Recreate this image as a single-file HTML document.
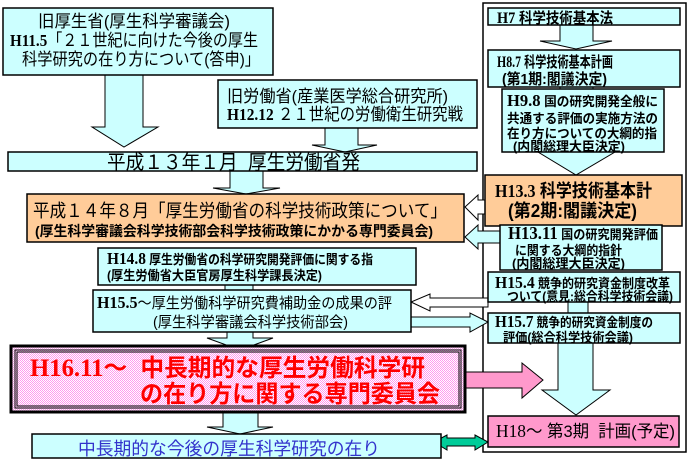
<!DOCTYPE html>
<html>
<head>
<meta charset="utf-8">
<style>
html,body{margin:0;padding:0;background:#fff;}
svg{display:block;}
text{font-family:"Liberation Sans","Noto Sans CJK JP",sans-serif;fill:#000;white-space:pre;}
.s{font-family:"Liberation Serif","Noto Serif CJK SC",serif;font-weight:bold;}
.b{font-weight:bold;}
</style>
</head>
<body>
<svg width="689" height="461" viewBox="0 0 689 461" xmlns="http://www.w3.org/2000/svg">
<defs>
<pattern id="pk" width="2" height="2" patternUnits="userSpaceOnUse">
<rect width="2" height="2" fill="#fff"/>
<rect width="1" height="1" fill="#FF99EE"/>
<rect x="1" y="1" width="1" height="1" fill="#FF99EE"/>
</pattern>
</defs>

<!-- right container -->
<rect x="483" y="3" width="203" height="449" fill="none" stroke="#000" stroke-width="1.5"/>

<!-- arrows (left side) -->
<polygon points="105,75 143,75 143,127 158,127 124,147 92,127 105,127" fill="#CCFFFF" stroke="#000" stroke-width="1"/>
<polygon points="325,128 358,128 358,145 377,145 345,152 312,145 325,145" fill="#CCFFFF" stroke="#000" stroke-width="1"/>
<polygon points="230,171 263,171 263,188 280,188 246,194 213,188 230,188" fill="#CCFFFF" stroke="#000" stroke-width="1"/>
<rect x="225" y="284" width="28" height="7" fill="#CCFFFF" stroke="#000" stroke-width="1"/>
<polygon points="227,332 253,332 253,338 273,338 240,350 207,338 227,338" fill="#CCFFFF" stroke="#000" stroke-width="1"/>
<polygon points="223,412 258,412 258,427 273,427 240,434 207,427 223,427" fill="#CCFFFF" stroke="#000" stroke-width="1"/>

<!-- arrows (right column) -->
<polygon points="560,25 593,25 593,41 612,41 576,49 540,41 560,41" fill="#CCFFFF" stroke="#000" stroke-width="1"/>
<rect x="560" y="86" width="33" height="4" fill="#CCFFFF" stroke="#000" stroke-width="1"/>
<polygon points="538,152 615,152 576,175" fill="#CCFFFF" stroke="#000" stroke-width="1"/>
<rect x="568" y="301" width="20" height="13" fill="#CCFFFF" stroke="#000" stroke-width="1"/>
<polygon points="558,343 593,343 593,390 610,390 576,415 542,390 558,390" fill="#CCFFFF" stroke="#000" stroke-width="1"/>

<!-- left-pointing arrows into orange box -->
<polygon points="488,200 478,200 478,195 465,207 478,220 478,214 488,214" fill="#fff" stroke="#000" stroke-width="1"/>
<polygon points="500,231 478,231 478,225 465,237 478,249 478,243 500,243" fill="#CCFFFF" stroke="#000" stroke-width="1"/>

<!-- arrows between H15.5 and H15.4/H15.7 -->
<polygon points="488,298 430,298 430,294 411,302 430,311 430,307 488,307" fill="#fff" stroke="#000" stroke-width="1"/>
<polygon points="411,317 470,317 470,313 488,322 470,332 470,327 411,327" fill="#CCFFFF" stroke="#000" stroke-width="1"/>

<!-- pink arrow -->
<polygon points="458,372 522,372 522,363 543,380 522,398 522,388 458,388" fill="#FF99CC" stroke="#000" stroke-width="1"/>

<!-- green double arrow -->
<polygon points="434,442 447,435 447,438 475,438 475,435 488,442 475,450 475,446 447,446 447,450" fill="#00CC99" stroke="#000" stroke-width="1"/>

<!-- Box 1 -->
<rect x="3" y="8" width="270" height="67" fill="#CCFFFF" stroke="#000" stroke-width="1.5"/>
<text x="38" y="27" font-size="17" textLength="192" lengthAdjust="spacingAndGlyphs">旧厚生省(厚生科学審議会)</text>
<text x="10" y="46" font-size="17" textLength="248" lengthAdjust="spacingAndGlyphs"><tspan class="s" font-size="17">H11.5</tspan>「２１世紀に向けた今後の厚生</text>
<text x="22" y="65" font-size="17" textLength="238" lengthAdjust="spacingAndGlyphs">科学研究の在り方について(答申)」</text>

<!-- Box 2 -->
<rect x="218" y="80" width="259" height="48" fill="#CCFFFF" stroke="#000" stroke-width="1.5"/>
<text x="227" y="102" font-size="17" textLength="221" lengthAdjust="spacingAndGlyphs">旧労働省(産業医学総合研究所)</text>
<text x="227" y="120" font-size="17" textLength="236" lengthAdjust="spacingAndGlyphs"><tspan class="s" font-size="17">H12.12</tspan> ２１世紀の労働衛生研究戦</text>

<!-- Banner -->
<rect x="8" y="152" width="469" height="19" fill="#CCFFFF" stroke="#000" stroke-width="1.5"/>
<text x="107" y="169" font-size="20" textLength="253" lengthAdjust="spacingAndGlyphs">平成１３年１月  厚生労働省発</text>

<!-- Orange box -->
<rect x="27" y="194" width="437" height="48" fill="#FFCC99" stroke="#000" stroke-width="1.5"/>
<text x="33" y="217" font-size="18" textLength="414" lengthAdjust="spacingAndGlyphs">平成１４年８月「厚生労働省の科学技術政策について」</text>
<text x="35" y="236" font-size="14" class="b" textLength="398" lengthAdjust="spacingAndGlyphs">(厚生科学審議会科学技術部会科学技術政策にかかる専門委員会)</text>

<!-- H14.8 -->
<rect x="98" y="248" width="318" height="37" fill="#CCFFFF" stroke="#000" stroke-width="1.5"/>
<text x="107" y="264" font-size="13" class="b" textLength="266" lengthAdjust="spacingAndGlyphs"><tspan class="s" font-size="17">H14.8</tspan> 厚生労働省の科学研究開発評価に関する指</text>
<text x="107" y="280" font-size="13" class="b" textLength="215" lengthAdjust="spacingAndGlyphs">(厚生労働省大臣官房厚生科学課長決定)</text>

<!-- H15.5 -->
<rect x="93" y="290" width="318" height="42" fill="#CCFFFF" stroke="#000" stroke-width="1.5"/>
<text x="97" y="308" font-size="15" textLength="295" lengthAdjust="spacingAndGlyphs"><tspan class="s" font-size="17">H15.5</tspan>〜厚生労働科学研究費補助金の成果の評</text>
<text x="153" y="327" font-size="15" textLength="195" lengthAdjust="spacingAndGlyphs">(厚生科学審議会科学技術部会)</text>

<!-- Pink main box -->
<rect x="11" y="346" width="454" height="66" fill="url(#pk)" stroke="#000" stroke-width="3"/>
<rect x="15" y="350" width="446" height="58" fill="none" stroke="#000" stroke-width="1"/>
<rect x="17" y="352" width="442" height="54" fill="none" stroke="#000" stroke-width="1"/>
<text x="30" y="376" font-size="24" class="b" style="fill:#FF0000" textLength="395" lengthAdjust="spacingAndGlyphs"><tspan class="s" style="fill:#FF0000" font-size="25">H16.11</tspan>〜  中長期的な厚生労働科学研</text>
<text x="140" y="402" font-size="24" class="b" style="fill:#FF0000" textLength="300" lengthAdjust="spacingAndGlyphs">の在り方に関する専門委員会</text>

<!-- Bottom box -->
<rect x="32" y="434" width="409" height="24" fill="#CCFFFF" stroke="#000" stroke-width="1.5"/>
<text x="78" y="455" font-size="18" style="fill:#3333CC" textLength="302" lengthAdjust="spacingAndGlyphs">中長期的な今後の厚生科学研究の在り</text>

<!-- Right column boxes -->
<rect x="488" y="8" width="192" height="17" fill="#CCFFFF" stroke="#000" stroke-width="1.5"/>
<text x="497" y="23" font-size="15" class="b" textLength="116" lengthAdjust="spacingAndGlyphs"><tspan class="s" font-size="16">H7</tspan> 科学技術基本法</text>

<rect x="488" y="50" width="192" height="37" fill="#CCFFFF" stroke="#000" stroke-width="1.5"/>
<text x="497" y="67" font-size="15" class="b" textLength="116" lengthAdjust="spacingAndGlyphs"><tspan class="s" font-size="16">H8.7</tspan> 科学技術基本計画</text>
<text x="502" y="84" font-size="15" class="b" textLength="105" lengthAdjust="spacingAndGlyphs">(第1期:閣議決定)</text>

<rect x="502" y="89" width="162" height="63" fill="#CCFFFF" stroke="#000" stroke-width="1.5"/>
<text x="507" y="106" font-size="13" class="b" textLength="151" lengthAdjust="spacingAndGlyphs"><tspan class="s" font-size="17">H9.8</tspan> 国の研究開発全般に</text>
<text x="507" y="123" font-size="13" class="b" textLength="151" lengthAdjust="spacingAndGlyphs">共通する評価の実施方法の</text>
<text x="507" y="138" font-size="13" class="b" textLength="150" lengthAdjust="spacingAndGlyphs">在り方についての大綱的指</text>
<text x="513" y="151" font-size="13" class="b" textLength="112" lengthAdjust="spacingAndGlyphs">(内閣総理大臣決定)</text>

<rect x="485" y="175" width="197" height="51" fill="#FFCC99" stroke="#000" stroke-width="1.5"/>
<text x="495" y="197" font-size="18" class="b" textLength="157" lengthAdjust="spacingAndGlyphs"><tspan class="s" font-size="18">H13.3</tspan> 科学技術基本計</text>
<text x="508" y="217" font-size="18" class="b" textLength="129" lengthAdjust="spacingAndGlyphs">(第2期:閣議決定)</text>

<rect x="500" y="225" width="162" height="45" fill="#CCFFFF" stroke="#000" stroke-width="1.5"/>
<text x="508" y="239" font-size="13" class="b" textLength="150" lengthAdjust="spacingAndGlyphs"><tspan class="s" font-size="18">H13.11</tspan> 国の研究開発評価</text>
<text x="515" y="255" font-size="13" class="b" textLength="107" lengthAdjust="spacingAndGlyphs">に関する大綱的指針</text>
<text x="512" y="268" font-size="13" class="b" textLength="113" lengthAdjust="spacingAndGlyphs">(内閣総理大臣決定)</text>

<rect x="488" y="272" width="192" height="30" fill="#CCFFFF" stroke="#000" stroke-width="1.5"/>
<text x="495" y="288" font-size="13" class="b" textLength="175" lengthAdjust="spacingAndGlyphs"><tspan class="s" font-size="17">H15.4</tspan> 競争的研究資金制度改革</text>
<text x="507" y="301" font-size="13" class="b" textLength="166" lengthAdjust="spacingAndGlyphs">ついて(意見:総合科学技術会議)</text>

<rect x="488" y="313" width="192" height="30" fill="#CCFFFF" stroke="#000" stroke-width="1.5"/>
<text x="495" y="327" font-size="13" class="b" textLength="158" lengthAdjust="spacingAndGlyphs"><tspan class="s" font-size="17">H15.7</tspan> 競争的研究資金制度の</text>
<text x="503" y="342" font-size="13" class="b" textLength="130" lengthAdjust="spacingAndGlyphs">評価(総合科学技術会議)</text>

<rect x="488" y="416" width="191" height="31" fill="#FF99CC" stroke="#000" stroke-width="1.5"/>
<text x="496" y="437" font-size="17" textLength="179" lengthAdjust="spacingAndGlyphs"><tspan class="s" font-size="18" style="font-weight:normal">H18</tspan>〜 第3期  計画(予定)</text>
</svg>
</body>
</html>
